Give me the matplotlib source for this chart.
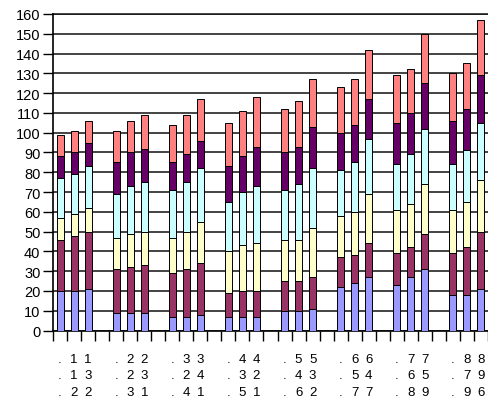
import matplotlib
matplotlib.use("agg")
from matplotlib import pyplot as plt
import numpy as np

plt.rcParams['font.family'] = ['Liberation Sans', 'DejaVu Sans']

# segment heights, 8 groups x 3 bars
blue   = [20, 20, 21, 9, 9, 9, 7, 7, 8, 7, 7, 7, 10, 10, 11, 22, 24, 27, 23, 27, 31, 18, 18, 21]
maroon = [26, 28, 29, 22, 23, 24, 22, 24, 26, 12, 13, 13, 15, 15, 16, 15, 14, 17, 16, 15, 18, 21, 24, 29]
yellow = [11, 11, 12, 16, 17, 17, 18, 19, 21, 21, 23, 24, 21, 21, 25, 21, 22, 25, 22, 22, 25, 22, 23, 26]
cyan   = [20, 20, 21, 22, 24, 25, 24, 25, 27, 25, 27, 29, 25, 28, 30, 23, 25, 28, 23, 25, 28, 23, 26, 29]
purple = [11, 11, 12, 16, 17, 17, 14, 14, 14, 18, 18, 20, 19, 19, 21, 19, 19, 20, 21, 21, 23, 22, 21, 24]
salmon = [11, 11, 11, 16, 16, 17, 19, 20, 21, 22, 23, 25, 22, 23, 24, 23, 23, 25, 24, 22, 25, 24, 23, 28]

series = [blue, maroon, yellow, cyan, purple, salmon]
colors = ['#9999FF', '#993366', '#FFFFCC', '#CCFFFF', '#660066', '#FF8080']

# label rows under each group (one character per bar)
row1 = ['.11', '.22', '.33', '.44', '.55', '.66', '.77', '.88']
row2 = ['.13', '.23', '.24', '.32', '.43', '.54', '.65', '.79']
row3 = ['.22', '.31', '.41', '.51', '.62', '.77', '.89', '.96']

n_groups = len(row1)
x = np.array([4 * g + k for g in range(n_groups) for k in range(3)])

fig = plt.figure(figsize=(4.88, 4.06), dpi=100)
ax = fig.add_axes([53 / 488, 74.5 / 406, 435 / 488, 316.5 / 406])

bottom = np.zeros(len(x))
for vals, c in zip(series, colors):
    vals = np.array(vals)
    ax.bar(x, vals, width=0.5, bottom=bottom, color=c, edgecolor='black',
           linewidth=0.7, zorder=3)
    bottom += vals

ax.set_ylim(0, 160)
ax.set_xlim(-0.5, 30.07)
ax.set_yticks(np.arange(0, 161, 10))
ax.yaxis.grid(True, color='#111111', linewidth=1.1, zorder=0)
ax.tick_params(axis='y', length=7, width=1, labelsize=10.5, pad=2)

labels = []
for g in range(n_groups):
    for k in range(3):
        labels.append(row1[g][k] + '\n' + row2[g][k] + '\n' + row3[g][k])
ax.set_xticks(x)
ax.set_xticklabels(labels, fontsize=9.5, linespacing=1.5)
ax.tick_params(axis='x', which='major', length=0, pad=16)
ax.set_xticks(np.arange(-0.5, 31, 1), minor=True)
ax.tick_params(axis='x', which='minor', length=7, width=1)

for s in ['top', 'right']:
    ax.spines[s].set_visible(False)
ax.spines['left'].set_linewidth(1.2)
ax.spines['bottom'].set_linewidth(1.2)
ax.axhline(160, color='#111111', linewidth=1.1, clip_on=False, zorder=0)

plt.savefig('out.png', dpi=100)
